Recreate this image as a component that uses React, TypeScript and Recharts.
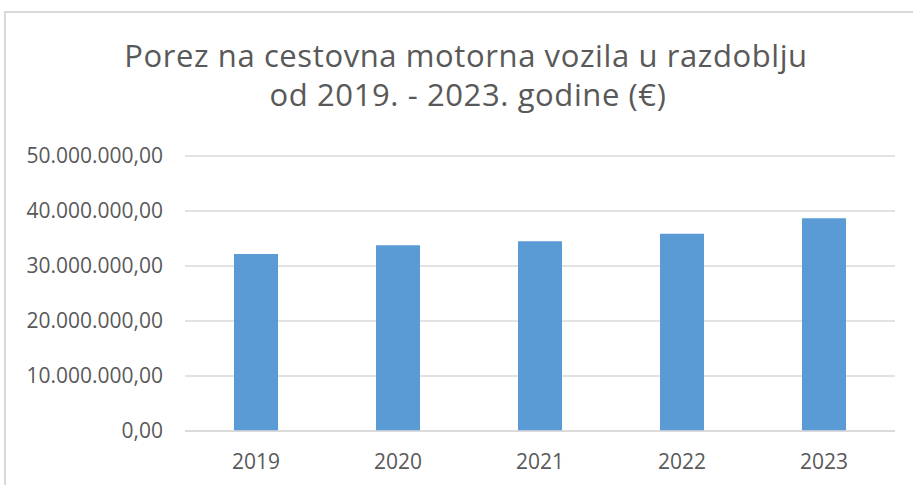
import React from "react";
import { BarChart, Bar, XAxis, YAxis, CartesianGrid } from "recharts";

const years = ["2019", "2020", "2021", "2022", "2023"];
const taxValues = [32180000, 33760000, 34490000, 35870000, 38670000];
const yTicks = [0, 10000000, 20000000, 30000000, 40000000, 50000000];
const titleLines = ["Porez na cestovna motorna vozila u razdoblju", "od 2019. - 2023. godine (€)"];

const data = years.map((y, i) => ({ year: y, value: taxValues[i] }));

const fmt = (v: number) => {
  const [intPart, dec] = v.toFixed(2).split(".");
  const withDots = intPart.replace(/\B(?=(\d{3})+(?!\d))/g, ".");
  return `${withDots},${dec}`;
};

const FONT = "'Open Sans', sans-serif";
const TEXT = "#595959";

export default function App() {
  return (
    <div style={{ position: "absolute", left: 0, top: 0, width: 913, height: 485, background: "#fff", overflow: "hidden" }}>
      <div
        style={{
          position: "absolute",
          left: 4,
          top: 11,
          width: 1000,
          height: 600,
          borderLeft: "2px solid #d9d9d9",
          borderTop: "2px solid #d9d9d9",
          boxSizing: "border-box",
        }}
      />
      <svg width={913} height={130} style={{ position: "absolute", left: 0, top: 0 }}>
        <text x={466} y={67} textAnchor="middle" fontFamily={FONT} fontSize={31} letterSpacing={0.6} fill={TEXT}>
          {titleLines[0]}
        </text>
        <text x={468} y={105.5} textAnchor="middle" fontFamily={FONT} fontSize={31} letterSpacing={0.6} fill={TEXT}>
          {titleLines[1]}
        </text>
      </svg>
      <div style={{ position: "absolute", left: 0, top: 0 }}>
        <BarChart
          width={913}
          height={485}
          data={data}
          margin={{ top: 156, right: 18, bottom: 14, left: 0 }}
        >
          <CartesianGrid vertical={false} stroke="#d9d9d9" strokeWidth={1.5} />
          <XAxis
            dataKey="year"
            axisLine={{ stroke: "#d9d9d9", strokeWidth: 1.5 }}
            tickLine={false}
            height={40}
            tickMargin={17}
            tick={{ fill: TEXT, fontSize: 21, fontFamily: FONT }}
          />
          <YAxis
            width={185}
            domain={[0, 50000000]}
            ticks={yTicks}
            tickFormatter={fmt}
            axisLine={false}
            tickLine={false}
            tickMargin={16}
            tick={{ fill: TEXT, fontSize: 21, fontFamily: FONT }}
          />
          <Bar dataKey="value" fill="#5b9bd5" barSize={44} isAnimationActive={false} />
        </BarChart>
      </div>
    </div>
  );
}
